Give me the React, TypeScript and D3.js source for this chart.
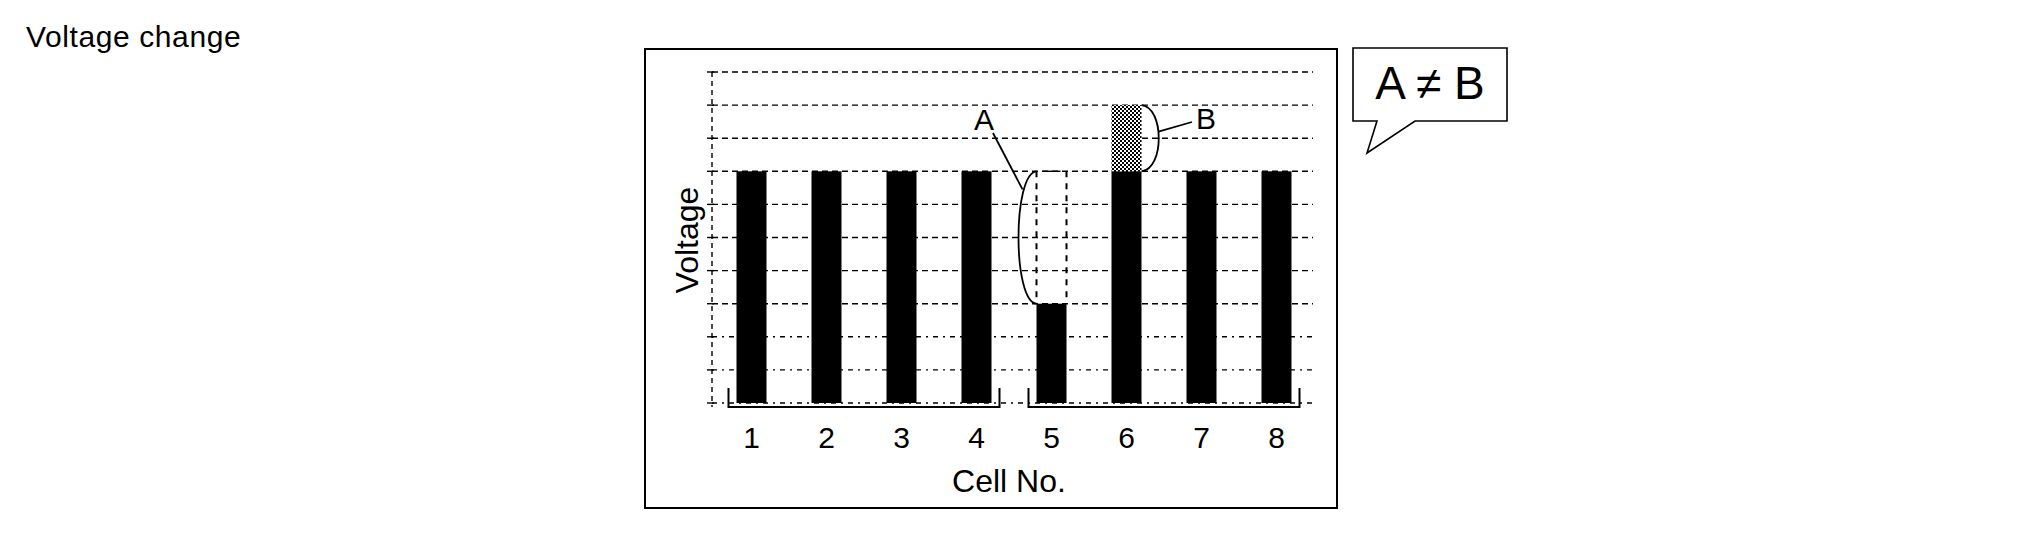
import React from "react";
import * as d3 from "d3";

const cells = ["1", "2", "3", "4", "5", "6", "7", "8"];
const voltages = [7, 7, 7, 7, 3, 7, 7, 7];
const previousVoltage5 = 7; // dashed outline of cell 5 before the drop (A)
const overshoot6 = 9; // hatched part of cell 6 (B)
const gridValues = [0, 1, 2, 3, 4, 5, 6, 7, 8, 9, 10];
const groups = [["1", "4"], ["5", "8"]];

const W = 2021;
const H = 545;
const FONT = "Arial, 'Liberation Sans', Helvetica, sans-serif";

export default function App() {
  const x = d3.scaleBand<string>().domain(cells).range([714, 1314]).paddingInner(0.6).paddingOuter(0.3);
  const y = d3.scaleLinear().domain([0, 10]).range([403, 72]);
  const bw = x.bandwidth();
  const xl = 712;
  const xr = 1313;

  const x5 = x("5")!;
  const x6 = x("6")!;
  const yTopA = y(previousVoltage5);
  const yBotA = y(voltages[4]);
  const yTopB = y(overshoot6);
  const yBotB = y(voltages[5]);

  return (
    <svg width={W} height={H} style={{ position: "absolute", left: 0, top: 0, background: "#fff" }} fontFamily={FONT}>
      <defs>
        <pattern id="hatch" width="4" height="4" patternUnits="userSpaceOnUse">
          <rect width="4" height="4" fill="#fff" />
          <rect x="0" y="0" width="2" height="2" fill="#000" />
          <rect x="2" y="2" width="2" height="2" fill="#000" />
        </pattern>
      </defs>
      <rect width={W} height={H} fill="#fff" />
      <text x={26} y={47} fontSize={30} letterSpacing={0.6} fill="#000">Voltage change</text>

      {/* frame */}
      <rect x={645} y={49} width={692} height={459} fill="none" stroke="#000" strokeWidth={2} />

      {/* gridlines */}
      {gridValues.map((v) => (
        <g key={v}>
          <line x1={xl} x2={xr} y1={y(v)} y2={y(v)} stroke="#000" strokeWidth={1.4}
            strokeDasharray={v <= 2 ? "5,5,2,5" : "6,4"} />
          <line x1={xl - 5} x2={xl + 2} y1={y(v)} y2={y(v)} stroke="#000" strokeWidth={1.4} />
        </g>
      ))}
      <line x1={xl} x2={xl} y1={y(10)} y2={y(0) + 4} stroke="#000" strokeWidth={1.4} strokeDasharray="5,4" />

      {/* bars */}
      {cells.map((c, i) => (
        <rect key={c} x={x(c)} y={y(voltages[i])} width={bw} height={y(0) - y(voltages[i])} fill="#000" />
      ))}

      {/* cell 5 previous level, dashed */}
      <line x1={x5} x2={x5} y1={yTopA} y2={yBotA} stroke="#000" strokeWidth={2} strokeDasharray="6,6" />
      <line x1={x5 + bw} x2={x5 + bw} y1={yTopA} y2={yBotA} stroke="#000" strokeWidth={2} strokeDasharray="6,6" />
      <line x1={x5 + 6} x2={x5 + 24} y1={yTopA} y2={yTopA} stroke="#000" strokeWidth={1.4} />

      {/* cell 6 overshoot, hatched */}
      <rect x={x6} y={yTopB} width={bw} height={yBotB - yTopB} fill="url(#hatch)" />

      {/* A brace */}
      <path d={`M ${x5} ${yTopA} C ${x5 - 24} ${yTopA + 2}, ${x5 - 24} ${yBotA - 2}, ${x5} ${yBotA}`}
        fill="none" stroke="#000" strokeWidth={1.8} />
      <line x1={993} y1={133} x2={x5 - 14} y2={yTopA + 18} stroke="#000" strokeWidth={1.8} />
      <text x={984} y={130} fontSize={30} textAnchor="middle" fill="#000">A</text>

      {/* B brace */}
      <path d={`M ${x6 + bw} ${yTopB} C ${x6 + bw + 23} ${yTopB + 2}, ${x6 + bw + 23} ${yBotB - 2}, ${x6 + bw} ${yBotB}`}
        fill="none" stroke="#000" strokeWidth={1.8} />
      <line x1={x6 + bw + 17} y1={y(8.2)} x2={1192} y2={122} stroke="#000" strokeWidth={1.8} />
      <text x={1206} y={129} fontSize={30} textAnchor="middle" fill="#000">B</text>

      {/* group brackets */}
      {groups.map(([a, b]) => {
        const x1 = x(a)! - 8;
        const x2 = x(b)! + bw + 8;
        return (
          <path key={a} d={`M ${x1} ${y(0) - 15} V ${y(0) + 4} H ${x2} V ${y(0) - 15}`}
            fill="none" stroke="#000" strokeWidth={2} />
        );
      })}

      {/* x tick labels */}
      {cells.map((c) => (
        <text key={c} x={x(c)! + bw / 2} y={448} fontSize={30} textAnchor="middle" fill="#000">{c}</text>
      ))}
      <text x={1009} y={492} fontSize={32} textAnchor="middle" fill="#000">Cell No.</text>
      <text transform={`translate(698,240) rotate(-90)`} fontSize={32} textAnchor="middle" fill="#000">Voltage</text>

      {/* callout */}
      <path d="M 1353 48 H 1507 V 121 H 1415 L 1367 153 L 1377 121 H 1353 Z" fill="#fff" stroke="#000" strokeWidth={1.6} />
      <text x={1430} y={99} fontSize={46} textAnchor="middle" fill="#000">A ≠ B</text>
    </svg>
  );
}
